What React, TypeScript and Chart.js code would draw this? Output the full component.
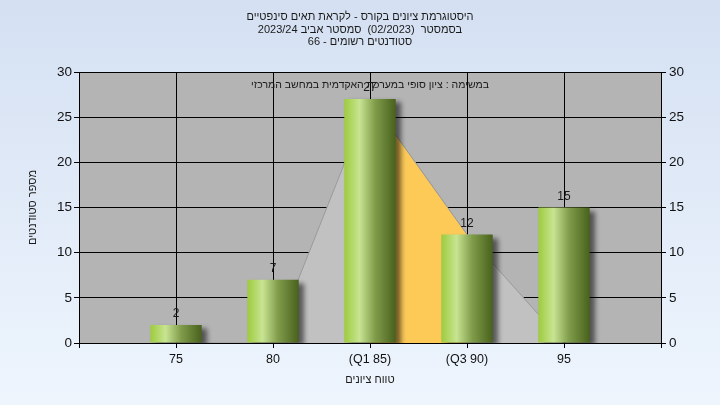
import React, { useEffect, useRef } from "react";
import { Chart, registerables } from "chart.js";

Chart.register(...registerables);

const categories = ["", "75", "80", "(Q1 85)", "(Q3 90)", "95", ""];
const studentCounts = [null, 2, 7, 27, 12, 15, null];
const spreadArea = [null, 0, 0, 27, 12, 0, null];
const quartileArea = [null, null, null, 27, 12, null, null];
const titleLines = [
  "היסטוגרמת ציונים בקורס - לקראת תאים סינפטיים",
  "בסמסטר  (02/2023)  סמסטר אביב 2023/24",
  "סטודנטים רשומים - 66",
];
const plotNote = "במשימה : ציון סופי במערכת האקדמית במחשב המרכזי";
const yTitle = "מספר סטודנטים";
const xTitle = "טווח ציונים";

const FONT = '"Liberation Sans", Arial, sans-serif';

export default function App() {
  const ref = useRef<HTMLCanvasElement | null>(null);

  useEffect(() => {
    document.body.style.margin = "0";
    const canvas = ref.current!;
    const bgPlugin = {
      id: "bg",
      beforeDraw(chart: any) {
        const { ctx, width, height, chartArea } = chart;
        ctx.save();
        const g = ctx.createLinearGradient(0, 0, 0, height);
        g.addColorStop(0, "#d4e0f2");
        g.addColorStop(1, "#eef5fd");
        ctx.fillStyle = g;
        ctx.fillRect(0, 0, width, height);
        ctx.fillStyle = "#b4b4b4";
        ctx.fillRect(chartArea.left, chartArea.top, chartArea.right - chartArea.left, chartArea.bottom - chartArea.top);
        ctx.restore();
      },
      beforeDatasetDraw(chart: any, args: any) {
        if (args.index === 0) {
          const ctx = chart.ctx;
          ctx.save();
          ctx.shadowColor = "rgba(0,0,0,0.55)";
          ctx.shadowBlur = 5;
          ctx.shadowOffsetX = 5;
          ctx.shadowOffsetY = 3;
        }
      },
      afterDatasetDraw(chart: any, args: any) {
        if (args.index === 0) chart.ctx.restore();
      },
      afterDraw(chart: any) {
        const { ctx, chartArea } = chart;
        ctx.save();
        ctx.fillStyle = "#1a1a1a";
        ctx.textAlign = "center";
        ctx.textBaseline = "middle";
        ctx.direction = "rtl";
        ctx.font = "11px " + FONT;
        const ys = [17, 30, 42];
        titleLines.forEach((t, i) => ctx.fillText(t, 360, ys[i]));
        const cx = (chartArea.left + chartArea.right) / 2;
        ctx.font = "10.5px " + FONT;
        ctx.fillText(plotNote, cx, 85);
        ctx.font = "11px " + FONT;
        ctx.fillText(xTitle, cx, 380);
        ctx.save();
        ctx.translate(33, (chartArea.top + chartArea.bottom) / 2);
        ctx.rotate(-Math.PI / 2);
        ctx.fillText(yTitle, 0, 0);
        ctx.restore();
        ctx.direction = "ltr";
        ctx.font = "12px " + FONT;
        const meta = chart.getDatasetMeta(0);
        meta.data.forEach((el: any, i: number) => {
          const v = studentCounts[i];
          if (v === null || v === undefined) return;
          ctx.fillText(String(v), el.x, el.y - 11);
        });
        ctx.restore();
      },
    };

    const barFill = (c: any) => {
      const chart = c.chart;
      const xs = chart.scales && chart.scales.x;
      if (!xs || c.dataIndex === undefined) return "#8fb040";
      const center = xs.getPixelForValue(c.dataIndex);
      if (!Number.isFinite(center)) return "#8fb040";
      const half = 26;
      const g = chart.ctx.createLinearGradient(center - half, 0, center + half, 0);
      g.addColorStop(0, "#9ccb3c");
      g.addColorStop(0.3, "#c8e492");
      g.addColorStop(0.6, "#7f9c4a");
      g.addColorStop(1, "#48601c");
      return g;
    };

    const chart = new Chart(canvas, {
      type: "bar",
      data: {
        labels: categories,
        datasets: [
          {
            type: "bar",
            data: studentCounts as any,
            backgroundColor: barFill,
            borderWidth: 0,
            barPercentage: 0.53,
            categoryPercentage: 1,
            order: 1,
            yAxisID: "y",
          },
          {
            type: "line",
            data: quartileArea as any,
            fill: "origin",
            backgroundColor: "#fdca58",
            borderColor: "#9a9a9a",
            borderWidth: 1,
            pointRadius: 0,
            tension: 0,
            order: 2,
            yAxisID: "y",
          },
          {
            type: "line",
            data: spreadArea as any,
            fill: "origin",
            backgroundColor: "#c1c1c1",
            borderColor: "#9a9a9a",
            borderWidth: 1,
            pointRadius: 0,
            tension: 0,
            order: 3,
            yAxisID: "y",
          },
        ] as any,
      },
      options: {
        responsive: false,
        animation: false,
        layout: { padding: { top: 72, left: 0, right: 0, bottom: 0 } },
        plugins: {
          legend: { display: false },
          title: { display: false },
          tooltip: { enabled: false },
        },
        scales: {
          x: {
            type: "category",
            offset: false,
            grid: { offset: false, color: "#000", lineWidth: 1, tickLength: 5, drawOnChartArea: true },
            border: { color: "#000" },
            ticks: { color: "#111", font: { size: 12.5, family: FONT }, padding: 4, autoSkip: false, maxRotation: 0 },
            afterFit: (s: any) => { s.height = 62; },
          },
          y: {
            position: "left",
            min: 0,
            max: 30,
            ticks: { stepSize: 5, color: "#111", font: { size: 13.5, family: FONT }, padding: 2 },
            grid: { color: "#000", lineWidth: 1, tickLength: 5 },
            border: { color: "#000" },
            afterFit: (s: any) => { s.width = 79; },
          },
          y2: {
            position: "right",
            min: 0,
            max: 30,
            ticks: { stepSize: 5, color: "#111", font: { size: 13.5, family: FONT }, padding: 3 },
            grid: { drawOnChartArea: false, color: "#000", lineWidth: 1, tickLength: 5 },
            border: { color: "#000" },
            afterFit: (s: any) => { s.width = 59; },
          },
        } as any,
      },
      plugins: [bgPlugin],
    });
    return () => chart.destroy();
  }, []);

  return <canvas ref={ref} width={720} height={405} style={{ display: "block" }} />;
}
